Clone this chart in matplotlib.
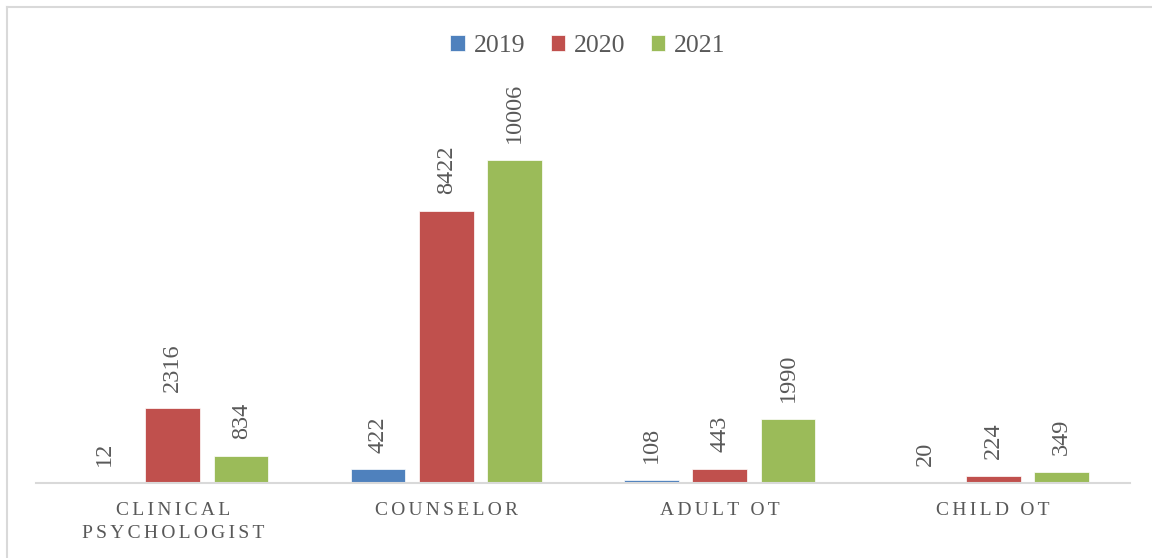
import numpy as np
import matplotlib.pyplot as plt
from matplotlib.lines import Line2D

plt.rcParams['font.family'] = ['Liberation Serif', 'DejaVu Serif']

categories = ["CLINICAL\nPSYCHOLOGIST", "COUNSELOR", "ADULT OT", "CHILD OT"]
years = ["2019", "2020", "2021"]
v2019 = [12, 422, 108, 20]
v2020 = [2316, 8422, 443, 224]
v2021 = [834, 10006, 1990, 349]
colors = ["#4F81BD", "#C0504D", "#9BBB59"]

W, H = 1152, 558
fig = plt.figure(figsize=(W / 100, H / 100), dpi=100)
ax = fig.add_axes([36 / W, (H - 483) / H, (1130 - 36) / W, (483 - 80) / H])

x = np.arange(len(categories))
offsets = [-0.25, 0.0, 0.25]
for vals, year, col, off in zip([v2019, v2020, v2021], years, colors, offsets):
    bars = ax.bar(x + off, vals, width=0.2, color=col, label=year,
                  edgecolor="white", linewidth=0.5)
    ax.bar_label(bars, labels=[str(v) for v in vals], rotation=90,
                 padding=12, fontsize=17.5, color="#595959")

ax.set_xlim(-0.5, 3.5)
ax.set_ylim(0, 12485)
ax.set_yticks([])


def spread(s):
    # Excel-style letter spacing
    return "\n".join("\u200a\u200a".join(list(line)) for line in s.split("\n"))


ax.set_xticks(x)
ax.set_xticklabels([spread(c) for c in categories], fontsize=14, color="#595959",
                   linespacing=1.45)
ax.tick_params(axis="x", length=0, pad=14)

for s in ["top", "right", "left"]:
    ax.spines[s].set_visible(False)
ax.spines["bottom"].set_color("#D9D9D9")
ax.spines["bottom"].set_linewidth(1.5)

leg = fig.legend(loc="center", bbox_to_anchor=(588 / W, (H - 46) / H), ncol=3,
                 frameon=False, fontsize=18.5, handlelength=0.55, handleheight=0.55,
                 handletextpad=0.35, columnspacing=1.0)
for t in leg.get_texts():
    t.set_color("#595959")

# chart border (top and left visible)
fig.add_artist(Line2D([7 / W, 7 / W], [0, (H - 7) / H], color="#D9D9D9", lw=1.5))
fig.add_artist(Line2D([7 / W, 1], [(H - 7) / H, (H - 7) / H], color="#D9D9D9", lw=1.5))

fig.savefig("out.png", dpi=100)
